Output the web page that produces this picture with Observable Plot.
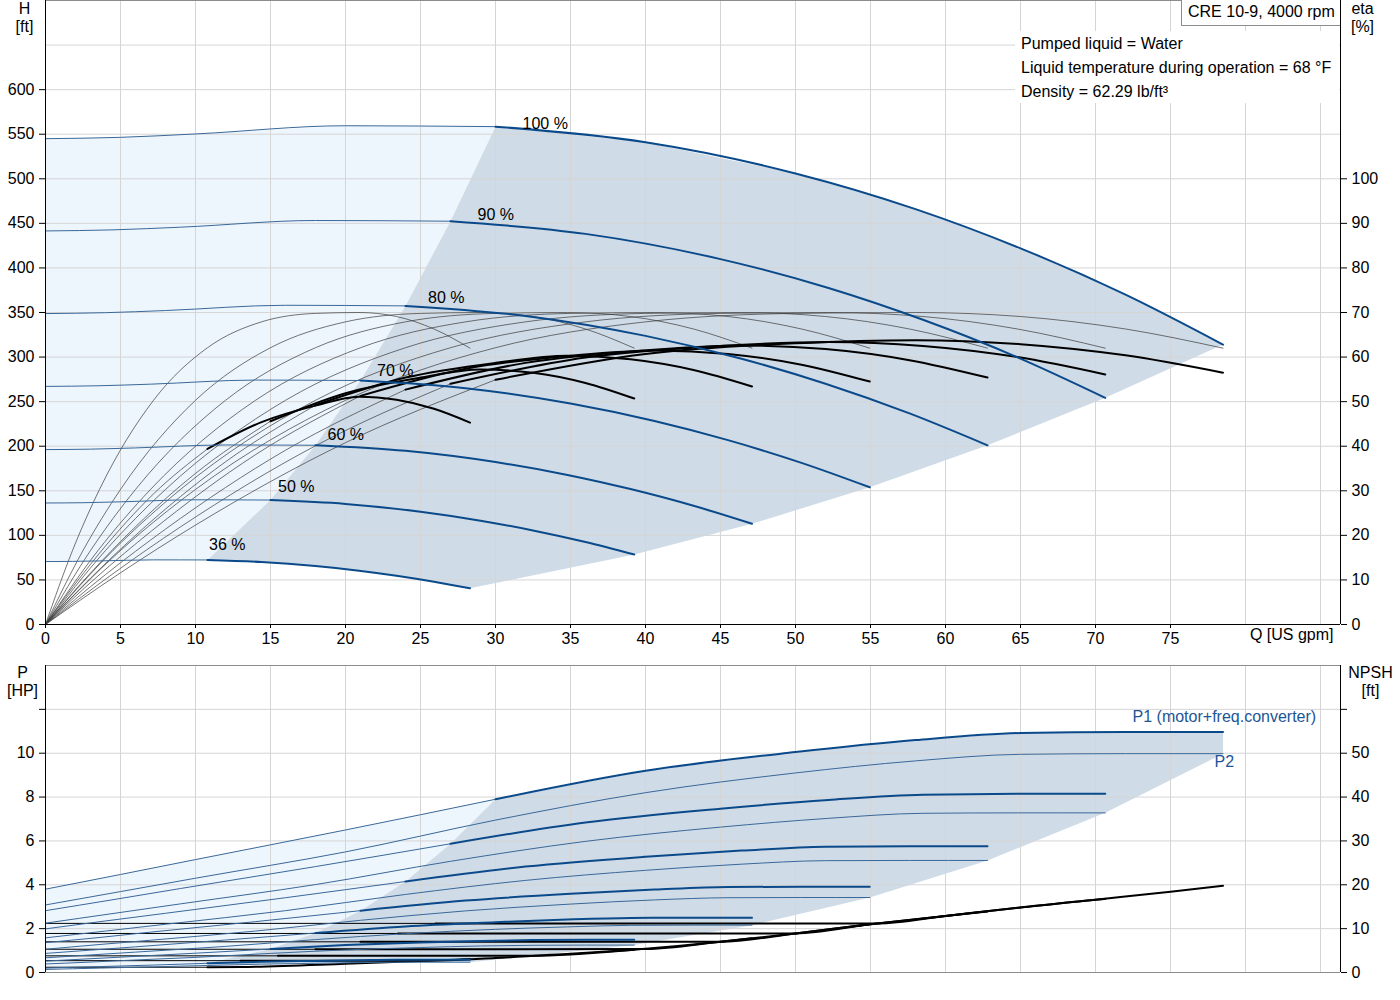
<!DOCTYPE html>
<html>
<head>
<meta charset="utf-8">
<script src="https://cdn.jsdelivr.net/npm/d3@7"></script>
<script src="https://cdn.jsdelivr.net/npm/@observablehq/plot@0.6"></script>
<style>
html,body{margin:0;padding:0;background:#fff;}
#wrap{position:relative;width:1400px;height:1000px;font-family:"Liberation Sans",Arial,sans-serif;font-size:16px;color:#000;overflow:hidden;}
#top,#bot{position:absolute;left:0;}
#top{top:0}
#bot{top:650px}
#model{position:absolute;left:1181px;top:0;width:159px;height:26px;border:1px solid #8c8c8c;border-top:none;border-right:none;background:#fff;box-sizing:border-box;}
#model span{position:absolute;left:6px;top:3px;white-space:nowrap;line-height:18px;}
#liquid{position:absolute;left:1015px;top:31px;width:324px;height:72px;background:#fff;}
#liquid div{position:absolute;left:6px;white-space:nowrap;line-height:18px;}
</style>
</head>
<body>
<div id="wrap">
  <div id="top"></div>
  <div id="bot"></div>
  <div id="model"><span>CRE 10-9, 4000 rpm</span></div>
  <div id="liquid">
    <div style="top:4px">Pumped liquid = Water</div>
    <div style="top:28px">Liquid temperature during operation = 68 °F</div>
    <div style="top:52px">Density = 62.29 lb/ft³</div>
  </div>
</div>
<script>
// ---------------- data ----------------
const speedLabels = ["100 %", "90 %", "80 %", "70 %", "60 %", "50 %", "36 %"];

// flow points of each speed curve [US gpm]; index 4 = min flow, index 10 = max flow
const flow = [
  [0, 5, 10, 20, 30, 40, 50, 58, 65, 72, 78.5],
  [0, 4.5, 9, 18, 27, 36, 45, 52.2, 58.5, 64.8, 70.65],
  [0, 4, 8, 16, 24, 32, 40, 46.4, 52, 57.6, 62.8],
  [0, 3.5, 7, 14, 21, 28, 35, 40.6, 45.5, 50.4, 54.95],
  [0, 3, 6, 12, 18, 24, 30, 34.8, 39, 43.2, 47.1],
  [0, 2.5, 5, 10, 15, 20, 25, 29, 32.5, 36, 39.25],
  [0, 1.8, 3.6, 7.2, 10.8, 14.4, 18, 20.9, 23.4, 25.9, 28.3]
];
// head H [ft]
const head = [
  [545, 546.5, 550.3, 559.5, 558.5, 541, 506, 466, 422, 370, 314],
  [441.5, 442.7, 445.7, 453.2, 452.4, 438.2, 409.9, 377.5, 341.8, 299.7, 254.3],
  [348.8, 349.8, 352.2, 358.1, 357.4, 346.2, 323.8, 298.2, 270.1, 236.8, 201],
  [267.1, 267.8, 269.6, 274.2, 273.7, 265.1, 247.9, 228.3, 206.8, 181.3, 153.9],
  [196.2, 196.7, 198.1, 201.4, 201.1, 194.8, 182.2, 167.8, 151.9, 133.2, 113],
  [136.3, 136.6, 137.6, 139.9, 139.6, 135.3, 126.5, 116.5, 105.5, 92.5, 78.5],
  [70.6, 70.8, 71.3, 72.5, 72.4, 70.1, 65.6, 60.4, 54.7, 48, 40.7]
];
// pump efficiency [%] at the flow points above (same for every speed)
const etaPump = [0, 16.6, 30.3, 50.3, 62.1, 67.9, 69.8, 70, 69.1, 66.3, 62.0];
// total efficiency (pump+motor+converter) [%]
const etaTotal = [
  [0, 11.6, 22.3, 40.8, 54.9, 60.7, 63.1, 63.8, 62.9, 60.4, 56.5],
  [0, 11.4, 21.9, 40.1, 54.0, 59.9, 62.5, 63.4, 62.5, 60.0, 56.1],
  [0, 11.2, 21.4, 39.1, 52.7, 58.7, 61.5, 62.6, 61.8, 59.3, 55.4],
  [0, 10.9, 20.8, 38.1, 51.3, 57.4, 60.3, 61.5, 60.7, 58.3, 54.5],
  [0, 10.4, 20.0, 36.5, 49.2, 55.4, 58.7, 60.3, 59.5, 57.1, 53.4],
  [0, 9.7, 18.6, 33.9, 45.6, 51.9, 55.4, 57.2, 56.5, 54.2, 50.7],
  [0, 8.3, 16.0, 29.3, 39.4, 45.4, 49.1, 51.1, 50.4, 48.4, 45.3]
];
// P1 (motor + freq. converter) [HP]
const powerP1 = [
  [3.8, 4.47, 5.15, 6.5, 7.9, 9.2, 10.05, 10.6, 10.92, 10.97, 10.97],
  [2.82, 3.32, 3.83, 4.83, 5.87, 6.84, 7.47, 7.87, 8.11, 8.15, 8.15],
  [1.99, 2.35, 2.7, 3.41, 4.15, 4.83, 5.28, 5.56, 5.74, 5.76, 5.76],
  [1.36, 1.59, 1.84, 2.32, 2.82, 3.28, 3.59, 3.78, 3.9, 3.91, 3.91],
  [0.87, 1.02, 1.17, 1.48, 1.8, 2.1, 2.29, 2.42, 2.49, 2.5, 2.5],
  [0.52, 0.61, 0.7, 0.88, 1.07, 1.25, 1.37, 1.44, 1.48, 1.49, 1.49],
  [0.2, 0.24, 0.27, 0.34, 0.42, 0.49, 0.53, 0.56, 0.58, 0.58, 0.58]
];
// P2 (shaft) [HP]
const powerP2 = [
  [3.08, 3.69, 4.3, 5.5, 6.95, 8.2, 9.1, 9.65, 9.95, 9.98, 9.98],
  [2.25, 2.69, 3.13, 4.01, 5.07, 5.98, 6.63, 7.03, 7.26, 7.28, 7.28],
  [1.58, 1.89, 2.2, 2.82, 3.56, 4.2, 4.66, 4.94, 5.1, 5.11, 5.11],
  [1.06, 1.27, 1.47, 1.89, 2.38, 2.81, 3.12, 3.31, 3.41, 3.42, 3.42],
  [0.67, 0.8, 0.93, 1.19, 1.5, 1.77, 1.97, 2.08, 2.15, 2.16, 2.16],
  [0.39, 0.46, 0.54, 0.69, 0.87, 1.03, 1.14, 1.21, 1.24, 1.25, 1.25],
  [0.14, 0.17, 0.2, 0.26, 0.32, 0.38, 0.42, 0.45, 0.47, 0.47, 0.47]
];
// NPSH curves [ft]; index 1 = start of the thick part
const npshFlow = [
  [0, 26, 55.5, 60, 65, 70, 75, 78.5],
  [0, 23.5, 50, 55, 60, 65, 70, 70.65],
  [0, 21, 45, 50, 55, 60, 62.8],
  [0, 18, 40, 45, 50, 54.95],
  [0, 15.5, 32.4, 40, 45, 47.1],
  [0, 13, 25.4, 30, 35, 39.25],
  [0, 10.8, 13, 20, 25, 28.3]
];
const npshVal = [
  [11.2, 11.2, 11.2, 12.9, 14.8, 16.6, 18.4, 19.8],
  [8.9, 8.9, 8.9, 11.0, 12.9, 14.8, 16.6, 16.8],
  [7.0, 7.0, 7.0, 8.9, 11.0, 12.9, 13.9],
  [5.3, 5.3, 5.35, 7.0, 8.9, 11.0],
  [3.8, 3.8, 3.8, 5.4, 7.0, 7.8],
  [2.7, 2.7, 2.7, 3.3, 4.3, 5.2],
  [1.2, 1.2, 1.25, 2.0, 2.65, 3.05]
];
// speed label anchors (Q, H)
const labelQ = [31.8, 28.8, 25.5, 22.1, 18.8, 15.5, 10.9];
const labelH = [562, 459, 366, 284, 213, 154, 89];

// ticks
const qTicks = [0, 5, 10, 15, 20, 25, 30, 35, 40, 45, 50, 55, 60, 65, 70, 75];
const qGrid = [0, 5, 10, 15, 20, 25, 30, 35, 40, 45, 50, 55, 60, 65, 70, 75, 80, 85];
const hTicks = [0, 50, 100, 150, 200, 250, 300, 350, 400, 450, 500, 550, 600];
const hGrid = [0, 50, 100, 150, 200, 250, 300, 350, 400, 450, 500, 550, 600, 650];
const etaTicks = [0, 10, 20, 30, 40, 50, 60, 70, 80, 90, 100];
const pGrid = [0, 2, 4, 6, 8, 10, 12];
const pLabelMax = 10;

// ---------------- helpers ----------------
const MIN = 4, MAX = 10;
const X1 = 86.333;
const BLUE = "#0b4a8a", THIN_BLUE = "#3a6899", LIGHT = "#edf5fd", DARK = "#cfdbe7", GRID = "#d5d5d5";
const FONT = '"Liberation Sans", Arial, sans-serif';

function seg(vals, from, to) {
  const out = [];
  flow.forEach((f, s) => { for (let j = from; j <= to; j++) out.push({s, Q: f[j], v: vals[s][j]}); });
  return out;
}
function npshSeg(thick) {
  const out = [];
  npshFlow.forEach((f, s) => {
    const a = thick ? 1 : 0, b = thick ? f.length - 1 : 1;
    for (let j = a; j <= b; j++) out.push({s, Q: f[j], v: npshVal[s][j]});
  });
  return out;
}
const etaPumpRows = flow.map(() => etaPump);
const minPts = vals => flow.map((f, s) => [f[MIN], vals[s][MIN]]);
const endPts = vals => flow.map((f, s) => [f[MAX], vals[s][MAX]]);
const along = (vals, s, a, b) => flow[s].slice(a, b).map((q, k) => [q, vals[s][a + k]]);

const topDark = [
  ...minPts(head).reverse(),
  ...along(head, 0, MIN + 1, MAX + 1),
  ...endPts(head).slice(1),
  ...along(head, 6, MIN + 1, MAX).reverse()
];
const topLight = [
  ...along(head, 0, 0, MIN + 1),
  ...minPts(head).slice(1),
  ...along(head, 6, 0, MIN).reverse()
];
const botDark = [
  ...minPts(powerP1).reverse(),
  ...along(powerP1, 0, MIN + 1, MAX + 1),
  ...endPts(powerP2),
  ...along(powerP2, 6, MIN, MAX).reverse()
];
const botLight = [
  ...along(powerP1, 0, 0, MIN + 1),
  ...minPts(powerP1).slice(1),
  ...along(powerP2, 6, 0, MIN + 1).reverse()
];

const lineOpts = (y, stroke, w) => ({x: "Q", y, z: "s", stroke, strokeWidth: w, curve: "monotone-x"});

// ---------------- top chart: H and eta ----------------
const topPlot = Plot.plot({
  width: 1400, height: 650,
  marginLeft: 45, marginRight: 60, marginTop: 0, marginBottom: 26,
  x: {domain: [0, X1]},
  y: {domain: [0, 700]},
  style: {fontFamily: FONT, fontSize: "16px", background: "#fff", overflow: "visible"},
  marks: [
    Plot.line(topLight, {x: d => d[0], y: d => d[1], fill: LIGHT, stroke: "none", curve: "linear-closed"}),
    Plot.line(topDark, {x: d => d[0], y: d => d[1], fill: DARK, stroke: "none", curve: "linear-closed"}),
    Plot.gridX(qGrid, {stroke: GRID, strokeOpacity: 1}),
    Plot.gridY(hGrid, {stroke: GRID, strokeOpacity: 1}),
    // efficiency curves (eta axis: 100 % = 500 ft)
    Plot.line(seg(etaPumpRows, 0, MAX), lineOpts(d => d.v * 5, "#3a3a3a", 0.7)),
    Plot.line(seg(etaTotal, 0, MIN), lineOpts(d => d.v * 5, "#3a3a3a", 0.7)),
    Plot.line(seg(etaTotal, MIN, MAX), lineOpts(d => d.v * 5, "#000", 2)),
    // head curves
    Plot.line(seg(head, 0, MIN), lineOpts("v", THIN_BLUE, 1)),
    Plot.line(seg(head, MIN, MAX), lineOpts("v", BLUE, 2)),
    Plot.text(speedLabels, {x: (d, i) => labelQ[i], y: (d, i) => labelH[i], text: d => d, textAnchor: "start", fill: "#000"}),
    // frame
    Plot.ruleY([700], {stroke: "#8c8c8c"}),
    Plot.ruleX([0], {stroke: "#000"}),
    Plot.ruleX([X1], {stroke: "#000"}),
    Plot.ruleY([0], {stroke: "#000"}),
    Plot.axisX(qTicks, {tickSize: 4, tickPadding: 4, label: null, tickFormat: d => String(d)}),
    Plot.axisY(hTicks, {anchor: "left", tickSize: 6, tickPadding: 5, label: null, tickFormat: d => String(d)}),
    Plot.axisY(etaTicks.map(e => e * 5), {anchor: "right", tickSize: 6, tickPadding: 5, label: null, tickFormat: d => String(d / 5)}),
    Plot.text(["Q [US gpm]"], {frameAnchor: "bottom-right", dx: -7, dy: 15, textAnchor: "end", text: d => d}),
    Plot.text(["H\n[ft]"], {frameAnchor: "top-left", dx: -21, dy: 1, lineAnchor: "top", textAnchor: "middle", lineHeight: 1.1, text: d => d}),
    Plot.text(["eta\n[%]"], {frameAnchor: "top-right", dx: 22, dy: 1, lineAnchor: "top", textAnchor: "middle", lineHeight: 1.1, text: d => d})
  ]
});
document.getElementById("top").appendChild(topPlot);

// ---------------- bottom chart: P and NPSH ----------------
const botPlot = Plot.plot({
  width: 1400, height: 350,
  marginLeft: 45, marginRight: 60, marginTop: 15, marginBottom: 28,
  x: {domain: [0, X1], axis: null},
  y: {domain: [0, 14]},
  style: {fontFamily: FONT, fontSize: "16px", background: "#fff", overflow: "visible"},
  marks: [
    Plot.line(botLight, {x: d => d[0], y: d => d[1], fill: LIGHT, stroke: "none", curve: "linear-closed"}),
    Plot.line(botDark, {x: d => d[0], y: d => d[1], fill: DARK, stroke: "none", curve: "linear-closed"}),
    Plot.gridX(qGrid, {stroke: GRID, strokeOpacity: 1}),
    Plot.gridY(pGrid, {stroke: GRID, strokeOpacity: 1}),
    // NPSH (axis: 10 ft = 2 HP)
    Plot.line(npshSeg(false), lineOpts(d => d.v / 5, "#000", 1)),
    Plot.line(npshSeg(true), lineOpts(d => d.v / 5, "#000", 2)),
    // power curves
    Plot.line(seg(powerP2, 0, MAX), lineOpts("v", THIN_BLUE, 1)),
    Plot.line(seg(powerP1, 0, MIN), lineOpts("v", THIN_BLUE, 1)),
    Plot.line(seg(powerP1, MIN, MAX), lineOpts("v", BLUE, 2)),
    Plot.text(["P1 (motor+freq.converter)"], {x: 72.47, y: 11.64, text: d => d, textAnchor: "start", fill: "#1d5596"}),
    Plot.text(["P2"], {x: 77.93, y: 9.59, text: d => d, textAnchor: "start", fill: "#1d5596"}),
    // frame
    Plot.ruleY([14], {stroke: "#8c8c8c"}),
    Plot.ruleY([0], {stroke: "#8c8c8c"}),
    Plot.ruleX([0], {stroke: "#000"}),
    Plot.ruleX([X1], {stroke: "#000"}),
    Plot.axisY(pGrid, {anchor: "left", tickSize: 6, tickPadding: 5, label: null, tickFormat: d => d <= pLabelMax ? String(d) : ""}),
    Plot.axisY(pGrid, {anchor: "right", tickSize: 6, tickPadding: 5, label: null, tickFormat: d => d <= pLabelMax ? String(d * 5) : ""}),
    Plot.text(["P\n[HP]"], {frameAnchor: "top-left", dx: -23, dy: 0, lineAnchor: "top", textAnchor: "middle", lineHeight: 1.1, text: d => d}),
    Plot.text(["NPSH\n[ft]"], {frameAnchor: "top-right", dx: 30, dy: 0, lineAnchor: "top", textAnchor: "middle", lineHeight: 1.1, text: d => d})
  ]
});
document.getElementById("bot").appendChild(botPlot);
</script>
</body>
</html>
